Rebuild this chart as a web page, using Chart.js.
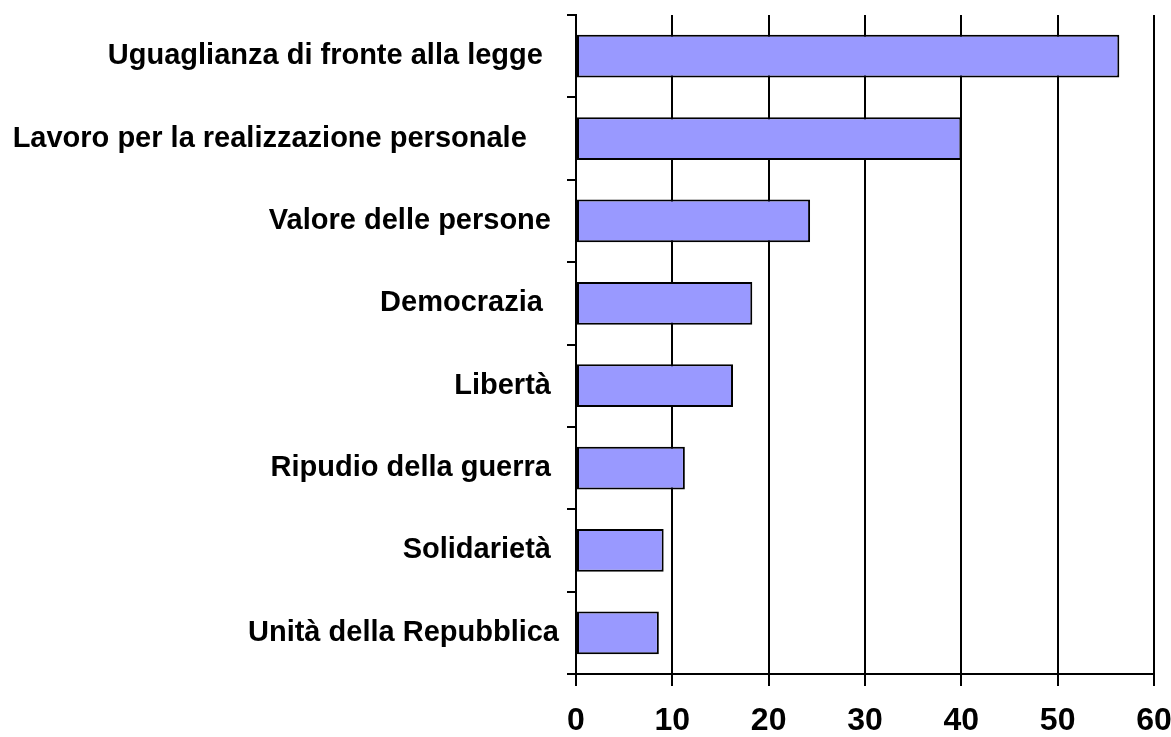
<!DOCTYPE html>
<html>
<head>
<meta charset="utf-8">
<script src="https://cdn.jsdelivr.net/npm/chart.js@4"></script>
<style>
  html, body { margin: 0; padding: 0; background: #fff; }
  #wrap { width: 1171px; height: 737px; }
</style>
</head>
<body>
<div id="wrap"><canvas id="graphCanvas" width="1171" height="737"></canvas></div>
<script>
// categorie (con spazi finali come nell'originale)
const categorie = [
    'Uguaglianza di fronte alla legge  ',
    'Lavoro per la realizzazione personale    ',
    'Valore delle persone ',
    'Democrazia  ',
    'Libertà ',
    'Ripudio della guerra ',
    'Solidarietà ',
    'Unità della Repubblica'
];
const valori = [56.4, 40.0, 24.3, 18.3, 16.3, 11.3, 9.1, 8.6];
const tickX = [0, 10, 20, 30, 40, 50, 60];

const ctx = document.getElementById('graphCanvas').getContext('2d');

window.myChart = new Chart(ctx, {
    type: 'bar',
    data: {
        labels: categorie,
        datasets: [{
            data: valori,
            backgroundColor: '#9999ff',
            borderColor: '#000000',
            borderWidth: 2,
            borderSkipped: false,
            barPercentage: 0.52,
            categoryPercentage: 1
        }]
    },
    options: {
        indexAxis: 'y',
        responsive: false,
        animation: false,
        layout: { padding: { top: 15, right: 17, left: 0, bottom: 0 } },
        plugins: {
            legend: { display: false },
            tooltip: { enabled: false }
        },
        scales: {
            x: {
                min: tickX[0],
                max: tickX[tickX.length - 1],
                afterBuildTicks: (scale) => { scale.ticks = tickX.map(v => ({ value: v })); },
                afterFit: (scale) => {
                    scale.height = 63;
                    scale.paddingLeft = 0;
                    scale.paddingRight = 0;
                },
                grid: { color: '#000', lineWidth: 2, tickLength: 12 },
                border: { color: '#000', width: 2 },
                ticks: {
                    color: '#000',
                    padding: 16,
                    font: { family: 'Liberation Sans, Arial, sans-serif', size: 32, weight: 'bold' }
                }
            },
            y: {
                afterFit: (scale) => {
                    scale.width = 576;
                    scale.paddingTop = 0;
                    scale.paddingBottom = 0;
                },
                grid: { color: '#000', lineWidth: 2, tickLength: 9, drawOnChartArea: false, offset: true },
                border: { color: '#000', width: 2 },
                ticks: {
                    color: '#000',
                    padding: 8,
                    font: { family: 'Liberation Sans, Arial, sans-serif', size: 29, weight: 'bold' }
                }
            }
        }
    }
});
</script>
</body>
</html>
